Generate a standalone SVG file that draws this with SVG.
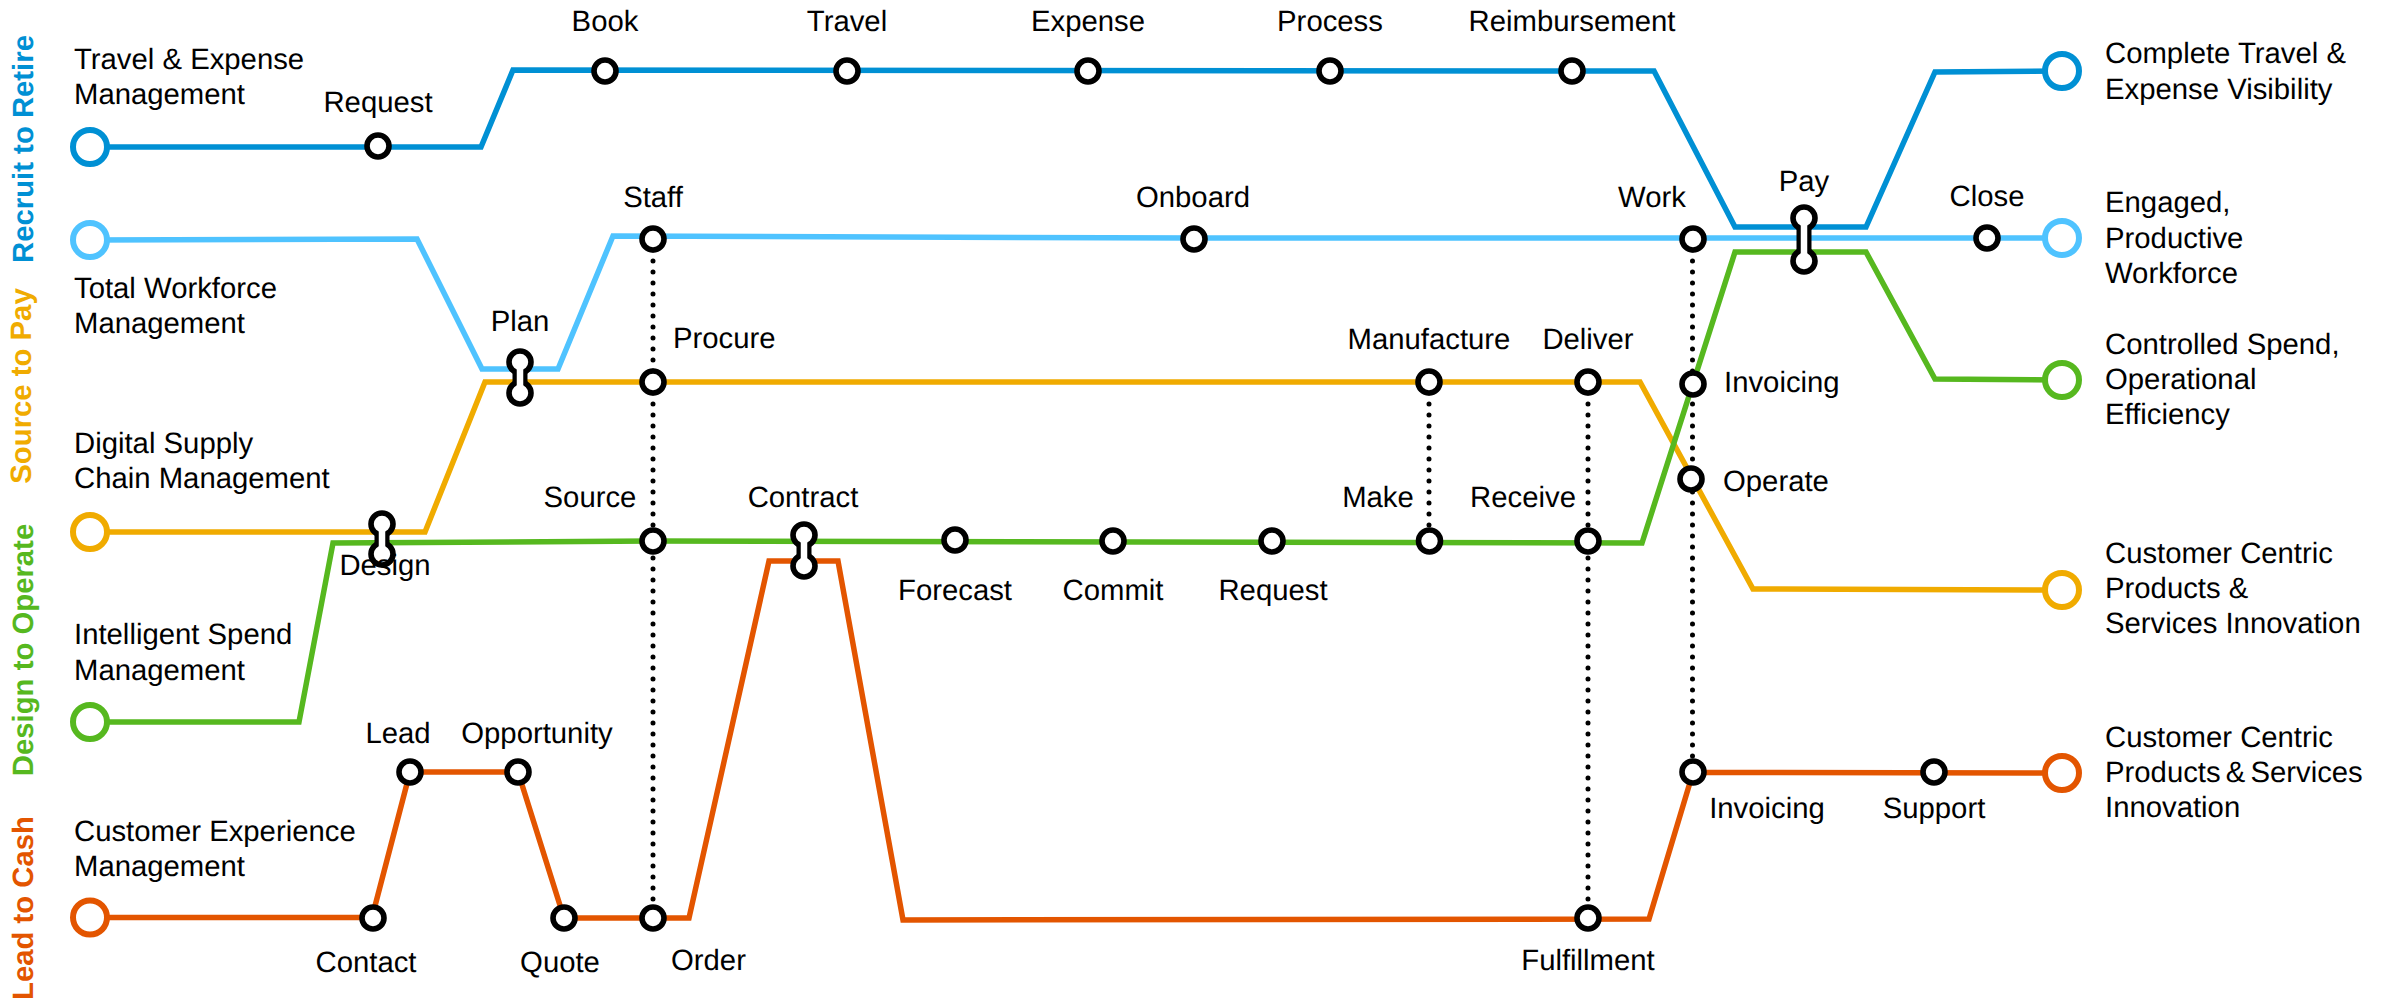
<svg xmlns="http://www.w3.org/2000/svg" width="2397" height="999" viewBox="0 0 2397 999">
<style>
text{font-family:"Liberation Sans",Arial,sans-serif;font-size:29.3px;fill:#000;text-rendering:geometricPrecision}
.m{text-anchor:middle}
.v{font-weight:bold;text-anchor:middle}
.l{fill:none;stroke-width:5.5;stroke-linejoin:miter}
.d{fill:none;stroke:#000;stroke-width:5;stroke-linecap:round;stroke-dasharray:0 11}
.n{fill:#fff;stroke:#000;stroke-width:5.6}
.e{fill:#fff;stroke-width:6}
.bk{stroke:#000;stroke-width:15;fill:none}
.wh{stroke:#fff;stroke-width:6.5;fill:none}
.c1{stroke:#0090d4}.c2{stroke:#4fc3ff}.c3{stroke:#f0ab00}.c4{stroke:#56b81f}.c5{stroke:#e35500}
</style>
<defs>
<circle id="s" r="11" class="n"/>
<circle id="b" r="17" class="e"/>
</defs>
<g id="connectors">
<path class="l c5" d="M90 917.500H372L410 772H518L564 918H689L769 561H838L903 920L1649 919L1693 772.500L2062 773"/>
<path class="l c3" d="M90 532L425 532L485 382L1640 382L1753 589L2062 590"/>
<path class="l c4" d="M90 722H299L333 543L653 541L1642 543L1735 252H1866L1935 379L2062 380"/>
<path class="l c1" d="M90 147H481L513 70L1654 71L1735 227H1866L1935 72L2062 71"/>
<path class="l c2" d="M90 240L417 239L482 369H558L613 236L1194 238H2062"/>
<path class="d" d="M653 239V918"/>
<path class="d" d="M1429 382V541"/>
<path class="d" d="M1588 382V918"/>
<path class="d" d="M1692.500 239V772"/>
</g>
<g id="lane-labels">
<text class="v" transform="translate(33 149) rotate(-90)" style="fill:#0090d4">Recruit to Retire</text>
<text class="v" transform="translate(31 386) rotate(-90)" style="fill:#f0ab00">Source to Pay</text>
<text class="v" transform="translate(33 650) rotate(-90)" style="fill:#56b81f">Design to Operate</text>
<text class="v" transform="translate(33 908) rotate(-90)" style="fill:#e35500">Lead to Cash</text>
</g>
<g id="start-travel"><use href="#b" x="90" y="147" class="c1"/><text x="74" y="69">Travel &amp; Expense</text><text x="74" y="104">Management</text></g>
<g id="start-workforce"><use href="#b" x="90" y="240" class="c2"/><text x="74" y="298">Total Workforce</text><text x="74" y="333">Management</text></g>
<g id="start-supply"><use href="#b" x="90" y="532" class="c3"/><text x="74" y="453">Digital Supply</text><text x="74" y="488">Chain Management</text></g>
<g id="start-spend"><use href="#b" x="90" y="722" class="c4"/><text x="74" y="644">Intelligent Spend</text><text x="74" y="680">Management</text></g>
<g id="start-cx"><use href="#b" x="90" y="917.500" class="c5"/><text x="74" y="841">Customer Experience</text><text x="74" y="876">Management</text></g>
<g id="end-travel"><use href="#b" x="2062" y="71" class="c1"/><text x="2105" y="63">Complete Travel &amp;</text><text x="2105" y="99">Expense Visibility</text></g>
<g id="end-workforce"><use href="#b" x="2062" y="238" class="c2"/><text x="2105" y="212">Engaged,</text><text x="2105" y="248">Productive</text><text x="2105" y="283">Workforce</text></g>
<g id="end-spend"><use href="#b" x="2062" y="380" class="c4"/><text x="2105" y="354">Controlled Spend,</text><text x="2105" y="389">Operational</text><text x="2105" y="424">Efficiency</text></g>
<g id="end-supply"><use href="#b" x="2062" y="590" class="c3"/><text x="2105" y="563">Customer Centric</text><text x="2105" y="598">Products &amp;</text><text x="2105" y="633">Services Innovation</text></g>
<g id="end-cx"><use href="#b" x="2062" y="773" class="c5"/><text x="2105" y="747">Customer Centric</text><text x="2105" y="782" word-spacing="-3">Products &amp; Services</text><text x="2105" y="817">Innovation</text></g>
<g id="n-request"><use href="#s" x="378" y="146"/><text class="m" x="378" y="112">Request</text></g>
<g id="n-book"><use href="#s" x="605" y="71"/><text class="m" x="605" y="31">Book</text></g>
<g id="n-travel"><use href="#s" x="847" y="71"/><text class="m" x="847" y="31">Travel</text></g>
<g id="n-expense"><use href="#s" x="1088" y="71"/><text class="m" x="1088" y="31">Expense</text></g>
<g id="n-process"><use href="#s" x="1330" y="71"/><text class="m" x="1330" y="31">Process</text></g>
<g id="n-reimbursement"><use href="#s" x="1572" y="71"/><text class="m" x="1572" y="31">Reimbursement</text></g>
<g id="n-staff"><use href="#s" x="653" y="239"/><text class="m" x="653" y="207">Staff</text></g>
<g id="n-onboard"><use href="#s" x="1194" y="239"/><text class="m" x="1193" y="207">Onboard</text></g>
<g id="n-work"><use href="#s" x="1693" y="239"/><text class="m" x="1652" y="207">Work</text></g>
<g id="n-close"><use href="#s" x="1987" y="238"/><text class="m" x="1987" y="206">Close</text></g>
<g id="n-procure"><use href="#s" x="653" y="382"/><text x="673" y="348">Procure</text></g>
<g id="n-manufacture"><use href="#s" x="1429" y="382"/><text class="m" x="1429" y="349">Manufacture</text></g>
<g id="n-deliver"><use href="#s" x="1588" y="382"/><text class="m" x="1588" y="349">Deliver</text></g>
<g id="n-invoicing1"><use href="#s" x="1693" y="384"/><text x="1724" y="392">Invoicing</text></g>
<g id="n-operate"><use href="#s" x="1691" y="479"/><text x="1723" y="491">Operate</text></g>
<g id="n-source"><use href="#s" x="653" y="541"/><text class="m" x="590" y="507">Source</text></g>
<g id="n-forecast"><use href="#s" x="955" y="540"/><text class="m" x="955" y="600">Forecast</text></g>
<g id="n-commit"><use href="#s" x="1113" y="541"/><text class="m" x="1113" y="600">Commit</text></g>
<g id="n-request2"><use href="#s" x="1272" y="541"/><text class="m" x="1273" y="600">Request</text></g>
<g id="n-make"><use href="#s" x="1429.500" y="541"/><text class="m" x="1378" y="507">Make</text></g>
<g id="n-receive"><use href="#s" x="1588" y="541"/><text class="m" x="1523" y="507">Receive</text></g>
<g id="n-lead"><use href="#s" x="410" y="772"/><text class="m" x="398" y="743">Lead</text></g>
<g id="n-opportunity"><use href="#s" x="518" y="772"/><text class="m" x="537" y="743">Opportunity</text></g>
<g id="n-contact"><use href="#s" x="373" y="918"/><text class="m" x="366" y="972">Contact</text></g>
<g id="n-quote"><use href="#s" x="564" y="918"/><text class="m" x="560" y="972">Quote</text></g>
<g id="n-order"><use href="#s" x="653" y="918"/><text x="671" y="970">Order</text></g>
<g id="n-fulfillment"><use href="#s" x="1588" y="918"/><text class="m" x="1588" y="970">Fulfillment</text></g>
<g id="n-invoicing2"><use href="#s" x="1693" y="772"/><text class="m" x="1767" y="818">Invoicing</text></g>
<g id="n-support"><use href="#s" x="1934" y="772"/><text class="m" x="1934" y="818">Support</text></g>
<g id="n-plan"><path class="bk" d="M520 362V393"/><use href="#s" x="520" y="362"/><use href="#s" x="520" y="393"/><path class="wh" d="M520 362V393"/><text class="m" x="520" y="331">Plan</text></g>
<g id="n-design"><path class="bk" d="M382 524V554"/><use href="#s" x="382" y="524"/><use href="#s" x="382" y="554"/><path class="wh" d="M382 524V554"/><text class="m" x="385" y="575">Design</text></g>
<g id="n-contract"><path class="bk" d="M804 535V566"/><use href="#s" x="804" y="535"/><use href="#s" x="804" y="566"/><path class="wh" d="M804 535V566"/><text class="m" x="803" y="507">Contract</text></g>
<g id="n-pay"><path class="bk" d="M1804 218V261"/><use href="#s" x="1804" y="218"/><use href="#s" x="1804" y="261"/><path class="wh" d="M1804 218V261"/><text class="m" x="1804" y="191">Pay</text></g>
</svg>
